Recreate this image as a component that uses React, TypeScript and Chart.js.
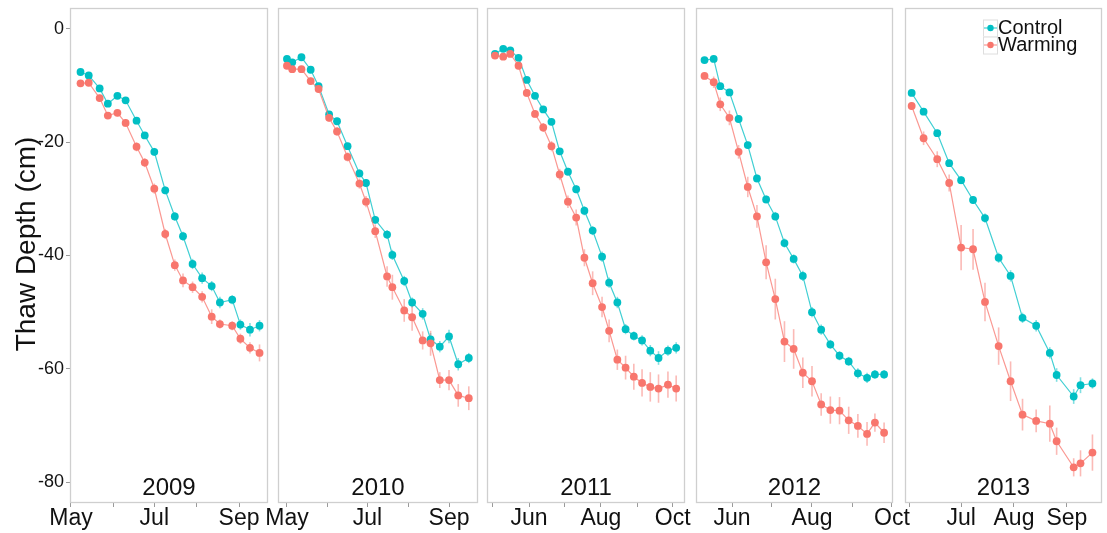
import React, { useEffect, useRef } from "react";
import { Chart, registerables } from "chart.js";

Chart.register(...registerables);

const FONT = "'Liberation Sans', Arial, Helvetica, sans-serif";
const CONTROL_COLOR = "#00BFC4";
const WARMING_COLOR = "#F8766D";
const CONTROL_LINE = "rgba(0,191,196,0.75)";
const WARMING_LINE = "rgba(248,118,109,0.75)";
const CONTROL_ERR = "rgba(0,191,196,0.5)";
const WARMING_ERR = "rgba(248,118,109,0.5)";
const BORDER_COLOR = "#cfcfcf";
const TICK_COLOR = "#9a9a9a";
const TEXT_COLOR = "#111111";

const seriesNames = ["Control", "Warming"];
const yTitle = "Thaw Depth (cm)";
const yTickValues = [-80, -60, -40, -20, 0];
const years = ["2009", "2010", "2011", "2012", "2013"];

// Month ticks (day of year) and their labels, per panel
const ticks2009 = [121, 152, 182, 213, 244];
const labels2009 = ["May", "", "Jul", "", "Sep"];
const ticks2010 = [121, 152, 182, 213, 244];
const labels2010 = ["May", "", "Jul", "", "Sep"];
const ticks2011 = [121, 152, 182, 213, 244, 274];
const labels2011 = ["", "Jun", "", "Aug", "", "Oct"];
const ticks2012 = [152, 182, 213, 244, 274];
const labels2012 = ["Jun", "", "Aug", "", "Oct"];
const ticks2013 = [152, 182, 213, 244];
const labels2013 = ["", "Jul", "Aug", "Sep"];

// 2009
const days2009 = [128, 134, 142, 148, 155, 161, 169, 175, 182, 190, 197, 203, 210, 217, 224, 230, 239, 245, 252, 259];
const control2009 = [-7.6, -8.2, -10.5, -13.2, -11.8, -12.6, -16.2, -18.8, -21.7, -28.5, -33.1, -36.6, -41.5, -44.0, -45.4, -48.3, -47.8, -52.2, -53.1, -52.4];
const warming2009 = [-9.6, -9.5, -12.2, -15.3, -14.8, -16.6, -20.8, -23.6, -28.2, -36.2, -41.7, -44.4, -45.6, -47.3, -50.8, -52.1, -52.4, -54.7, -56.3, -57.2];
const controlErr2009 = [0.4, 0.4, 0.5, 0.6, 0.5, 0.5, 0.6, 0.6, 0.7, 0.7, 0.8, 0.8, 0.9, 1.0, 0.9, 1.0, 0.8, 0.9, 1.2, 1.0];
const warmingErr2009 = [0.5, 0.5, 0.6, 0.6, 0.6, 0.7, 0.8, 0.8, 0.9, 0.9, 1.0, 1.2, 1.0, 1.0, 1.3, 0.8, 0.8, 0.9, 1.0, 1.5];

// 2010
const days2010 = [121, 125, 132, 139, 145, 153, 159, 167, 176, 181, 188, 197, 201, 210, 216, 224, 230, 237, 244, 251, 259];
const control2010 = [-5.3, -5.9, -5.0, -7.2, -10.1, -15.1, -16.3, -20.7, -25.5, -27.2, -33.7, -36.3, -39.9, -44.5, -48.3, -50.3, -54.8, -56.1, -54.3, -59.2, -58.1];
const warming2010 = [-6.5, -7.1, -7.1, -9.2, -10.6, -15.7, -18.1, -22.6, -27.3, -30.5, -35.7, -43.7, -45.6, -49.7, -50.9, -55.0, -55.5, -62.0, -62.0, -64.7, -65.2];
const controlErr2010 = [0.4, 0.4, 0.4, 0.5, 0.5, 0.5, 0.6, 0.6, 0.7, 0.7, 0.7, 0.8, 0.9, 0.9, 0.9, 1.0, 1.1, 1.0, 1.2, 1.1, 0.9];
const warmingErr2010 = [0.5, 0.5, 0.5, 0.6, 0.6, 0.7, 0.8, 0.8, 0.9, 1.0, 1.2, 1.8, 2.2, 2.0, 2.4, 1.6, 2.2, 1.4, 1.8, 2.0, 2.1];

// 2011
const days2011 = [123, 130, 136, 143, 150, 157, 164, 171, 178, 185, 192, 199, 206, 214, 220, 227, 234, 241, 248, 255, 262, 270, 277];
const control2011 = [-4.4, -3.5, -3.8, -5.1, -9.0, -11.8, -14.2, -16.4, -21.6, -25.2, -28.3, -32.1, -35.6, -40.2, -44.8, -48.3, -53.0, -54.2, -55.0, -56.8, -58.1, -56.8, -56.3];
const warming2011 = [-4.7, -4.9, -4.4, -6.5, -11.3, -15.0, -17.4, -20.7, -25.7, -30.5, -33.3, -40.4, -44.9, -49.1, -53.3, -58.4, -59.8, -61.4, -62.5, -63.2, -63.5, -62.8, -63.5];
const controlErr2011 = [0.4, 0.4, 0.4, 0.5, 0.5, 0.5, 0.6, 0.6, 0.6, 0.7, 0.7, 0.8, 0.8, 0.9, 0.9, 1.0, 0.9, 0.8, 0.9, 1.0, 1.2, 0.9, 1.0];
const warmingErr2011 = [0.5, 0.5, 0.5, 0.6, 0.7, 0.7, 0.8, 0.9, 1.0, 1.1, 1.4, 1.5, 2.1, 1.8, 2.0, 1.8, 2.1, 2.3, 2.4, 2.6, 2.5, 2.3, 2.3];

// 2012
const days2012 = [131, 138, 143, 150, 157, 164, 171, 178, 185, 192, 199, 206, 213, 220, 227, 234, 241, 248, 255, 261, 268];
const control2012 = [-5.5, -5.3, -10.1, -11.2, -15.9, -20.5, -26.4, -30.1, -33.1, -37.8, -40.6, -43.6, -50.0, -53.1, -55.7, -57.7, -58.7, -60.8, -61.6, -61.0, -61.0];
const warming2012 = [-8.3, -9.4, -13.3, -15.7, -21.7, -27.9, -33.1, -41.2, -47.7, -55.2, -56.5, -60.7, -62.2, -66.3, -67.3, -67.4, -69.1, -70.1, -71.5, -69.5, -71.3];
const controlErr2012 = [0.4, 0.4, 0.5, 0.5, 0.6, 0.6, 0.7, 0.7, 0.8, 0.8, 0.8, 0.9, 0.9, 0.9, 0.8, 0.8, 0.8, 0.9, 0.9, 0.8, 0.8];
const warmingErr2012 = [0.6, 1.0, 1.2, 1.3, 1.2, 1.8, 2.0, 3.0, 3.6, 3.6, 3.5, 2.7, 2.7, 2.0, 2.4, 2.4, 2.4, 2.1, 2.1, 1.6, 1.8];

// 2013
const days2013 = [153, 160, 168, 175, 182, 189, 196, 204, 211, 218, 226, 234, 238, 248, 252, 259];
const control2013 = [-11.3, -14.6, -18.4, -23.7, -26.7, -30.2, -33.4, -40.4, -43.6, -51.0, -52.4, -57.2, -61.1, -64.9, -62.9, -62.6];
const warming2013 = [-13.6, -19.3, -23.0, -27.2, -38.6, -38.9, -48.2, -56.0, -62.2, -68.1, -69.2, -69.7, -72.8, -77.4, -76.7, -74.8];
const controlErr2013 = [0.5, 0.6, 0.6, 0.6, 0.7, 0.7, 0.8, 0.9, 1.0, 0.9, 1.0, 1.0, 1.2, 1.3, 1.4, 0.9];
const warmingErr2013 = [0.7, 1.2, 1.4, 1.5, 4.0, 3.6, 3.4, 3.3, 3.5, 2.8, 2.0, 3.2, 2.4, 1.6, 2.3, 3.2];

// Axis ranges (day of year) for each panel
const xRanges = [
  [120.3, 265.2],
  [114.2, 266.0],
  [116.2, 284.5],
  [124.5, 274.8],
  [149.1, 264.6],
];
const yRange = [-83.7, 3.7];

const panels = [
  { year: years[0], days: days2009, c: control2009, w: warming2009, ce: controlErr2009, we: warmingErr2009, ticks: ticks2009, labels: labels2009 },
  { year: years[1], days: days2010, c: control2010, w: warming2010, ce: controlErr2010, we: warmingErr2010, ticks: ticks2010, labels: labels2010 },
  { year: years[2], days: days2011, c: control2011, w: warming2011, ce: controlErr2011, we: warmingErr2011, ticks: ticks2011, labels: labels2011 },
  { year: years[3], days: days2012, c: control2012, w: warming2012, ce: controlErr2012, we: warmingErr2012, ticks: ticks2012, labels: labels2012 },
  { year: years[4], days: days2013, c: control2013, w: warming2013, ce: controlErr2013, we: warmingErr2013, ticks: ticks2013, labels: labels2013 },
];

// Layout (pixel geometry of the panels)
const PANEL_BOUNDS = [
  [70, 268],
  [278, 478],
  [487, 685],
  [696, 893],
  [905, 1102],
];
const H = 533;
const PANEL_TOP = 8;
const PANEL_BOTTOM = 503;
const SIDE_PAD = 34;

function Panel({ idx }: { idx: number }) {
  const ref = useRef<HTMLCanvasElement | null>(null);
  const p = panels[idx];
  const [L, R] = PANEL_BOUNDS[idx];
  const first = idx === 0;
  const last = idx === panels.length - 1;
  const padL = first ? 0 : SIDE_PAD;
  const padR = SIDE_PAD;
  const left = first ? 0 : L - padL;
  const width = first ? R + padR : R - L + padL + padR;

  useEffect(() => {
    const canvas = ref.current;
    if (!canvas) return;

    const errorBars = {
      id: "errorBars" + idx,
      beforeDatasetsDraw(chart: any) {
        const ctx = chart.ctx;
        const ys = chart.scales.y;
        const a = chart.chartArea;
        ctx.save();
        ctx.beginPath();
        ctx.rect(a.left, a.top, a.right - a.left, a.bottom - a.top);
        ctx.clip();
        const sets = [
          { di: 1, vals: p.c, errs: p.ce, color: CONTROL_ERR },
          { di: 0, vals: p.w, errs: p.we, color: WARMING_ERR },
        ];
        sets.forEach((s) => {
          const meta = chart.getDatasetMeta(s.di);
          ctx.strokeStyle = s.color;
          ctx.lineWidth = 1.6;
          meta.data.forEach((pt: any, i: number) => {
            const v = s.vals[i];
            const e = s.errs[i];
            ctx.beginPath();
            ctx.moveTo(pt.x, ys.getPixelForValue(v + e));
            ctx.lineTo(pt.x, ys.getPixelForValue(v - e));
            ctx.stroke();
          });
        });
        ctx.restore();
      },
    };

    const decor = {
      id: "decor" + idx,
      afterDraw(chart: any) {
        const ctx = chart.ctx;
        const a = chart.chartArea;
        ctx.save();
        // panel border
        ctx.strokeStyle = BORDER_COLOR;
        ctx.lineWidth = 1.3;
        ctx.strokeRect(a.left + 0.5, a.top + 0.5, a.right - a.left - 1, a.bottom - a.top - 1);
        // year strip label
        ctx.fillStyle = TEXT_COLOR;
        ctx.font = `24px ${FONT}`;
        ctx.textAlign = "center";
        ctx.textBaseline = "alphabetic";
        ctx.fillText(p.year, (a.left + a.right) / 2, 495);
        // y axis title
        if (first) {
          ctx.save();
          ctx.translate(35, 244);
          ctx.rotate(-Math.PI / 2);
          ctx.font = `28px ${FONT}`;
          ctx.textAlign = "center";
          ctx.textBaseline = "alphabetic";
          ctx.fillText(yTitle, 0, 0);
          ctx.restore();
        }
        // legend
        if (last) {
          const colors = [CONTROL_COLOR, WARMING_COLOR];
          const lines = [CONTROL_LINE, WARMING_LINE];
          const keyX = 983 - left;
          const keyW = 14;
          const keyH = 17;
          const top0 = 19.5;
          seriesNames.forEach((name, i) => {
            const ky = top0 + i * keyH;
            const cy = ky + keyH / 2;
            ctx.fillStyle = "#ffffff";
            ctx.fillRect(keyX, ky, keyW, keyH);
            ctx.strokeStyle = "#dedede";
            ctx.lineWidth = 1;
            ctx.strokeRect(keyX + 0.5, ky + 0.5, keyW, keyH);
            ctx.strokeStyle = lines[i];
            ctx.lineWidth = 1.2;
            ctx.beginPath();
            ctx.moveTo(keyX + 1, cy);
            ctx.lineTo(keyX + keyW, cy);
            ctx.stroke();
            ctx.fillStyle = colors[i];
            ctx.beginPath();
            ctx.arc(keyX + keyW / 2 + 0.5, cy, 3.2, 0, Math.PI * 2);
            ctx.fill();
            ctx.fillStyle = TEXT_COLOR;
            ctx.font = `20px ${FONT}`;
            ctx.textAlign = "left";
            ctx.textBaseline = "middle";
            ctx.fillText(name, keyX + keyW + 1, cy);
          });
        }
        ctx.restore();
      },
    };

    const mk = (vals: number[]) => p.days.map((d, i) => ({ x: d, y: vals[i] }));

    const chart = new Chart(canvas, {
      type: "line",
      data: {
        datasets: [
          {
            label: seriesNames[1],
            data: mk(p.w),
            borderColor: WARMING_LINE,
            backgroundColor: WARMING_COLOR,
            pointBackgroundColor: WARMING_COLOR,
            pointRadius: 3.9,
            pointBorderWidth: 0,
            borderWidth: 1.2,
            tension: 0,
            order: 0,
          },
          {
            label: seriesNames[0],
            data: mk(p.c),
            borderColor: CONTROL_LINE,
            backgroundColor: CONTROL_COLOR,
            pointBackgroundColor: CONTROL_COLOR,
            pointRadius: 3.9,
            pointBorderWidth: 0,
            borderWidth: 1.2,
            tension: 0,
            order: 1,
          },
        ],
      },
      options: {
        animation: false,
        responsive: false,
        devicePixelRatio: 1,
        events: [],
        layout: { padding: { top: PANEL_TOP, bottom: 0, left: padL, right: padR } },
        plugins: {
          legend: { display: false },
          tooltip: { enabled: false },
          title: { display: false },
        },
        scales: {
          x: {
            type: "linear",
            min: xRanges[idx][0],
            max: xRanges[idx][1],
            afterBuildTicks: (s: any) => {
              s.ticks = p.ticks.map((v) => ({ value: v }));
            },
            afterFit: (s: any) => {
              s.height = H - PANEL_BOTTOM;
              s.paddingLeft = 0;
              s.paddingRight = 0;
            },
            ticks: {
              autoSkip: false,
              maxRotation: 0,
              minRotation: 0,
              padding: -2,
              color: TEXT_COLOR,
              font: { family: FONT, size: 23 },
              callback: (v: any) => {
                const k = p.ticks.indexOf(Number(v));
                return k >= 0 ? p.labels[k] : "";
              },
            },
            grid: {
              drawOnChartArea: false,
              drawTicks: true,
              tickLength: 4,
              color: TICK_COLOR,
              lineWidth: 1,
            },
            border: { display: false },
          },
          y: {
            type: "linear",
            display: first,
            min: yRange[0],
            max: yRange[1],
            afterBuildTicks: (s: any) => {
              s.ticks = yTickValues.map((v) => ({ value: v }));
            },
            afterFit: (s: any) => {
              if (first) s.width = L;
              s.paddingTop = 0;
              s.paddingBottom = 0;
            },
            ticks: {
              padding: 2,
              color: TEXT_COLOR,
              font: { family: FONT, size: 18 },
            },
            grid: {
              drawOnChartArea: false,
              drawTicks: true,
              tickLength: 4,
              color: TICK_COLOR,
              lineWidth: 1,
            },
            border: { display: false },
          },
        },
      },
      plugins: [errorBars, decor],
    } as any);

    return () => chart.destroy();
  }, []);

  return (
    <canvas
      ref={ref}
      width={width}
      height={H}
      style={{ position: "absolute", left, top: 0, width, height: H, display: "block" }}
    />
  );
}

export default function App() {
  return (
    <div
      style={{
        position: "absolute",
        left: 0,
        top: 0,
        width: 1107,
        height: H,
        background: "#ffffff",
        overflow: "hidden",
      }}
    >
      {panels.map((_, i) => (
        <Panel key={i} idx={i} />
      ))}
    </div>
  );
}
